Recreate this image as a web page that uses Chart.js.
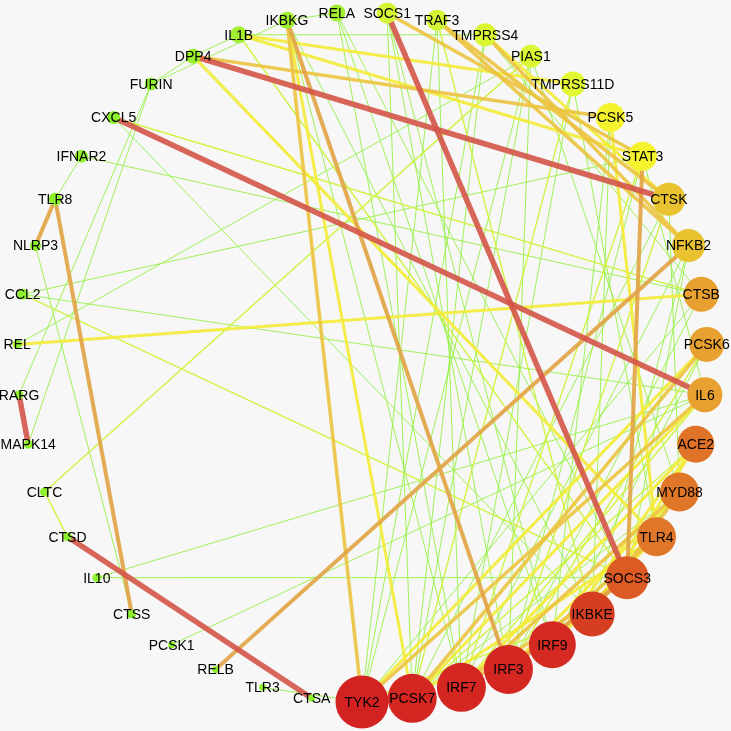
<!DOCTYPE html>
<html>
<head>
<meta charset="utf-8">
<script src="https://cdn.jsdelivr.net/npm/chart.js@4.4.0/dist/chart.umd.min.js"></script>
<style>
  html, body { margin: 0; padding: 0; background: #f7f7f7; }
  #wrap { width: 731px; height: 731px; }
</style>
</head>
<body>
<div id="wrap"><canvas id="net" width="731" height="731"></canvas></div>
<script>
// nodes in degree sorted circle order, starting at the bottom
const nodeNames = ['TYK2','PCSK7','IRF7','IRF3','IRF9','IKBKE','SOCS3','TLR4','MYD88','ACE2',
  'IL6','PCSK6','CTSB','NFKB2','CTSK','STAT3','PCSK5','TMPRSS11D','PIAS1','TMPRSS4',
  'TRAF3','SOCS1','RELA','IKBKG','IL1B','DPP4','FURIN','CXCL5','IFNAR2','TLR8',
  'NLRP3','CCL2','REL','RARG','MAPK14','CLTC','CTSD','IL10','CTSS','PCSK1',
  'RELB','TLR3','CTSA'];
const nodeDegree = [24,22,22,22,21,20,19,17,17,16,
  15,15,15,14,14,12,12,10,9,9,
  8,8,6,6,6,5,4,4,4,4,
  3,3,2,2,2,2,2,2,2,1,
  1,1,1];

// [source, target, weight class 1 (low, green) .. 6 (high, red)]
const edges = [
  ['DPP4','CTSK',6], ['CXCL5','IL6',6], ['SOCS1','SOCS3',6], ['CTSD','CTSA',6], ['RARG','MAPK14',6],
  ['STAT3','SOCS3',5], ['TLR8','CTSS',5], ['TLR8','NLRP3',5], ['IKBKG','IRF3',5], ['NFKB2','RELB',5], ['IRF3','SOCS3',5],
  ['IKBKG','TYK2',4], ['DPP4','PCSK5',4], ['SOCS1','STAT3',4], ['TRAF3','CTSK',4], ['TRAF3','NFKB2',4],
  ['TMPRSS4','NFKB2',4], ['TYK2','IL6',4], ['PCSK7','PCSK6',4], ['IRF7','MYD88',4], ['IRF3','TLR4',4],
  ['IKBKE','MYD88',4], ['IRF7','SOCS3',4],
  ['IKBKG','PCSK7',3], ['REL','CTSB',3], ['DPP4','TLR4',3], ['IL1B','TMPRSS11D',3], ['IL1B','STAT3',3],
  ['PCSK5','TLR4',3], ['TYK2','PCSK6',3], ['PCSK7','IL6',3], ['IRF7','ACE2',3], ['IRF3','MYD88',3],
  ['IRF9','ACE2',3], ['IRF9','TLR4',3], ['IKBKE','ACE2',3], ['PCSK7','TLR4',3], ['TMPRSS4','CTSK',3],
  ['CLTC','PIAS1',2], ['CXCL5','CTSB',2], ['CLTC','CTSD',2], ['CCL2','SOCS3',2], ['TYK2','IKBKE',2],
  ['IRF7','IL6',2], ['IRF3','PCSK6',2], ['IRF9','MYD88',2], ['PCSK7','ACE2',2],
  ['IRF7','STAT3',2], ['IRF3','CTSK',2], ['SOCS3','IL1B',2], ['IKBKE','TRAF3',2], ['PCSK7','TMPRSS11D',2],
  ['TYK2','TMPRSS4',1], ['TYK2','PIAS1',1], ['TYK2','TRAF3',1], ['TYK2','TLR3',1], ['TYK2','CTSB',1],
  ['PCSK7','TMPRSS4',1], ['PCSK7','PIAS1',1], ['PCSK7','SOCS1',1], ['PCSK7','CTSK',1], ['PCSK7','MYD88',1],
  ['IRF7','RELA',1], ['IRF7','TRAF3',1], ['IRF7','TMPRSS11D',1], ['IRF7','NFKB2',1], ['IRF7','IKBKG',1],
  ['IRF3','SOCS1',1], ['IRF3','PIAS1',1], ['IRF3','STAT3',1], ['IRF3','CTSB',1],
  ['IRF9','SOCS1',1], ['IRF9','RELA',1], ['IRF9','PCSK5',1], ['IRF9','PCSK6',1],
  ['IKBKE','PCSK5',1], ['IKBKE','NFKB2',1], ['IKBKE','CXCL5',1], ['IKBKE','IKBKG',1],
  ['SOCS3','RELA',1], ['SOCS3','NFKB2',1], ['SOCS3','IL10',1],
  ['TLR4','TMPRSS11D',1], ['MYD88','PIAS1',1], ['MYD88','CTSK',1],
  ['CTSB','TMPRSS4',1], ['CTSB','IFNAR2',1], ['STAT3','IL6',1], ['STAT3','CCL2',1],
  ['IL6','CCL2',1], ['IL6','IL10',1], ['IL6','PCSK1',1], ['PIAS1','REL',1],
  ['FURIN','RARG',1], ['FURIN','MAPK14',1], ['FURIN','IKBKG',1], ['FURIN','DPP4',1],
  ['IFNAR2','TLR8',1], ['NLRP3','CTSS',1], ['IL1B','TMPRSS4',1], ['IL1B','DPP4',1], ['RELA','IKBKG',1]
];

// styles
const edgeStyle = {
  1: { color: 'rgba(145,240,60,0.85)', width: 1 },
  2: { color: 'rgba(205,242,60,0.95)', width: 1.4 },
  3: { color: 'rgba(243,236,58,0.92)', width: 3 },
  4: { color: 'rgba(236,196,66,0.92)', width: 3.5 },
  5: { color: 'rgba(226,164,70,0.92)', width: 4 },
  6: { color: 'rgba(212,84,72,0.9)', width: 5.5 }
};
const colorStops = [
  [1,'#8ff02d'],[4,'#8ff02d'],[6,'#a2ee31'],[8,'#d3f534'],[10,'#e2f832'],[12,'#f5f22e'],
  [14,'#e9c22f'],[15,'#e8a030'],[16,'#e07328'],[17,'#e07628'],[19,'#dc5a24'],[20,'#d63e22'],[21,'#d42a22'],[24,'#d32222']
];

function hexRgb(h) { return [1,3,5].map(i => parseInt(h.slice(i, i + 2), 16)); }
function degColor(d) {
  for (let i = 0; i < colorStops.length - 1; i++) {
    const [d0, c0] = colorStops[i], [d1, c1] = colorStops[i + 1];
    if (d >= d0 && d <= d1) {
      const t = (d - d0) / (d1 - d0);
      const a = hexRgb(c0), b = hexRgb(c1);
      return 'rgb(' + a.map((v, k) => Math.round(v + (b[k] - v) * t)).join(',') + ')';
    }
  }
  return colorStops[colorStops.length - 1][1];
}

// circle layout (unit radius), first node at the bottom
const step = 2 * Math.PI / nodeNames.length;
const pos = nodeNames.map((n, i) => {
  const a = Math.PI / 2 - i * step;
  return { x: Math.cos(a), y: Math.sin(a) };
});
const idx = {};
nodeNames.forEach((n, i) => idx[n] = i);

const datasets = [];
datasets.push({
  type: 'bubble',
  data: nodeNames.map((n, i) => ({ x: pos[i].x, y: pos[i].y, r: 2.5 + nodeDegree[i] })),
  backgroundColor: nodeDegree.map(degColor),
  borderWidth: 0,
  order: 0
});
edges.forEach(([s, t, w]) => {
  const st = edgeStyle[w];
  datasets.push({
    type: 'scatter',
    data: [pos[idx[s]], pos[idx[t]]],
    showLine: true,
    borderColor: st.color,
    borderWidth: st.width,
    pointRadius: 0,
    order: 10 - w
  });
});

const nodeLabels = {
  id: 'nodeLabels',
  afterDatasetsDraw(chart) {
    const { ctx, scales: { x, y } } = chart;
    ctx.save();
    ctx.font = "14px 'Liberation Sans', Arial, sans-serif";
    ctx.fillStyle = '#000';
    ctx.textAlign = 'center';
    ctx.textBaseline = 'middle';
    nodeNames.forEach((n, i) => {
      ctx.fillText(n, x.getPixelForValue(pos[i].x), y.getPixelForValue(pos[i].y) + 1);
    });
    ctx.restore();
  }
};

new Chart(document.getElementById('net').getContext('2d'), {
  type: 'scatter',
  data: { datasets },
  options: {
    responsive: false,
    animation: false,
    events: [],
    layout: { padding: 0, autoPadding: false },
    plugins: { legend: { display: false }, tooltip: { enabled: false } },
    scales: {
      x: { display: false, min: -362 / 345, max: 369 / 345 },
      y: { display: false, reverse: true, min: -357 / 345, max: 374 / 345 }
    }
  },
  plugins: [nodeLabels]
});
</script>
</body>
</html>
